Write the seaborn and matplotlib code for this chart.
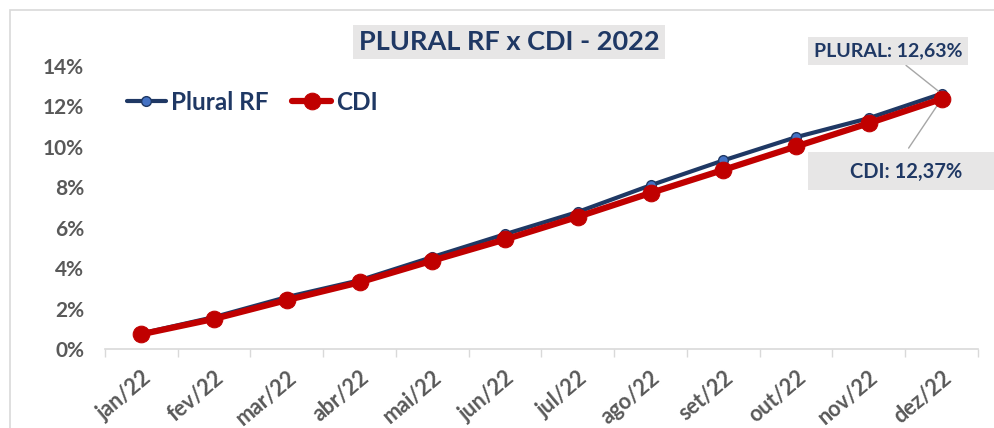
import pandas as pd
import seaborn as sns
import matplotlib.pyplot as plt
from matplotlib.patches import Rectangle
from matplotlib.ticker import PercentFormatter, FixedLocator

# accumulated returns 2022 (%)
months = ["jan/22", "fev/22", "mar/22", "abr/22", "mai/22", "jun/22",
          "jul/22", "ago/22", "set/22", "out/22", "nov/22", "dez/22"]
plural_rf = [0.77, 1.58, 2.57, 3.40, 4.55, 5.68, 6.78, 8.10, 9.33, 10.48, 11.42, 12.63]
cdi = [0.73, 1.49, 2.42, 3.30, 4.37, 5.42, 6.54, 7.72, 8.86, 10.02, 11.17, 12.37]

df = pd.DataFrame({"x": range(len(months)), "month": months,
                   "Plural RF": plural_rf, "CDI": cdi})

navy = "#1F3864"
red = "#C00000"
gray_txt = "#595959"
box_gray = "#E7E6E6"

sns.set_style("white")
plt.rcParams["font.family"] = ["Lato", "DejaVu Sans"]

W, H = 995, 428
fig = plt.figure(figsize=(W / 100, H / 100), dpi=100)
ax = fig.add_axes([105 / W, 1 - 349 / H, (978 - 105) / W, (349 - 66) / H])

sns.lineplot(data=df, x="x", y="Plural RF", ax=ax, color=navy, lw=3,
             marker="o", markersize=7, markerfacecolor="#4472C4",
             markeredgecolor=navy, markeredgewidth=1, label="Plural RF", zorder=3)
sns.lineplot(data=df, x="x", y="CDI", ax=ax, color=red, lw=4.5,
             marker="o", markersize=12, markerfacecolor=red,
             markeredgecolor=red, label="CDI", zorder=4)

ax.set_xlim(-0.5, len(months) - 0.5)
ax.set_ylim(0, 14)
ax.set_xlabel("")
ax.set_ylabel("")

ax.set_yticks(range(0, 15, 2))
ax.yaxis.set_major_formatter(PercentFormatter(decimals=0))
ax.set_xticks(range(len(months)))
ax.set_xticklabels(months, rotation=40, ha="right", rotation_mode="anchor")
ax.xaxis.set_minor_locator(FixedLocator([i - 0.5 for i in range(len(months) + 1)]))
ax.tick_params(axis="x", which="major", length=0, pad=13, labelsize=15.5,
               labelcolor=gray_txt)
ax.tick_params(axis="x", which="minor", length=6, color="#D9D9D9", width=1,
               direction="out", bottom=True)
ax.tick_params(axis="y", length=0, pad=15, labelsize=15, labelcolor=gray_txt)
for lab in ax.get_xticklabels() + ax.get_yticklabels():
    lab.set_fontweight("bold")

for s in ["top", "right", "left"]:
    ax.spines[s].set_visible(False)
ax.spines["bottom"].set_color("#D9D9D9")
ax.spines["bottom"].set_linewidth(1.2)

leg = ax.legend(loc="upper left", bbox_to_anchor=(0.0, 0.99), ncol=2,
                frameon=False, fontsize=17.5, handlelength=1.6,
                columnspacing=1.0, handletextpad=0.2)
for t in leg.get_texts():
    t.set_color(navy)
    t.set_fontweight("bold")

# outer border
fig.patches.append(Rectangle((10 / W, -0.1), 1.1, 1 - 10 / H + 0.1,
                             transform=fig.transFigure, fill=False,
                             edgecolor="#D9D9D9", lw=1.2))

# title
fig.text(509 / W, 1 - 42 / H, "PLURAL RF x CDI - 2022", ha="center", va="center",
         fontsize=19.5, fontweight="bold", color=navy,
         bbox=dict(boxstyle="square,pad=0.2", fc=box_gray, ec="none"))

# end labels
last = len(months) - 1
ax.annotate("PLURAL: 12,63%", xy=(last, plural_rf[-1]), xycoords="data",
            xytext=(888 / W, 1 - 51 / H), textcoords="figure fraction",
            ha="center", va="center", fontsize=14, fontweight="bold", color=navy,
            bbox=dict(boxstyle="square,pad=0.3", fc=box_gray, ec="none"),
            arrowprops=dict(arrowstyle="-", color="#A6A6A6", lw=1,
                            shrinkA=0, shrinkB=2))
fig.patches.append(Rectangle((808 / W, 1 - 190 / H), 200 / W, 38 / H,
                             transform=fig.transFigure, fc=box_gray, ec="none",
                             zorder=0))
ax.annotate("CDI: 12,37%", xy=(last, cdi[-1]), xycoords="data",
            xytext=(906 / W, 1 - 152 / H), textcoords="figure fraction",
            ha="center", va="center", fontsize=1, color=box_gray,
            arrowprops=dict(arrowstyle="-", color="#A6A6A6", lw=1,
                            shrinkA=0, shrinkB=2))
fig.text(906 / W, 1 - 172 / H, "CDI: 12,37%", ha="center", va="center",
         fontsize=14.5, fontweight="bold", color=navy)

fig.savefig("out.png", dpi=100)
